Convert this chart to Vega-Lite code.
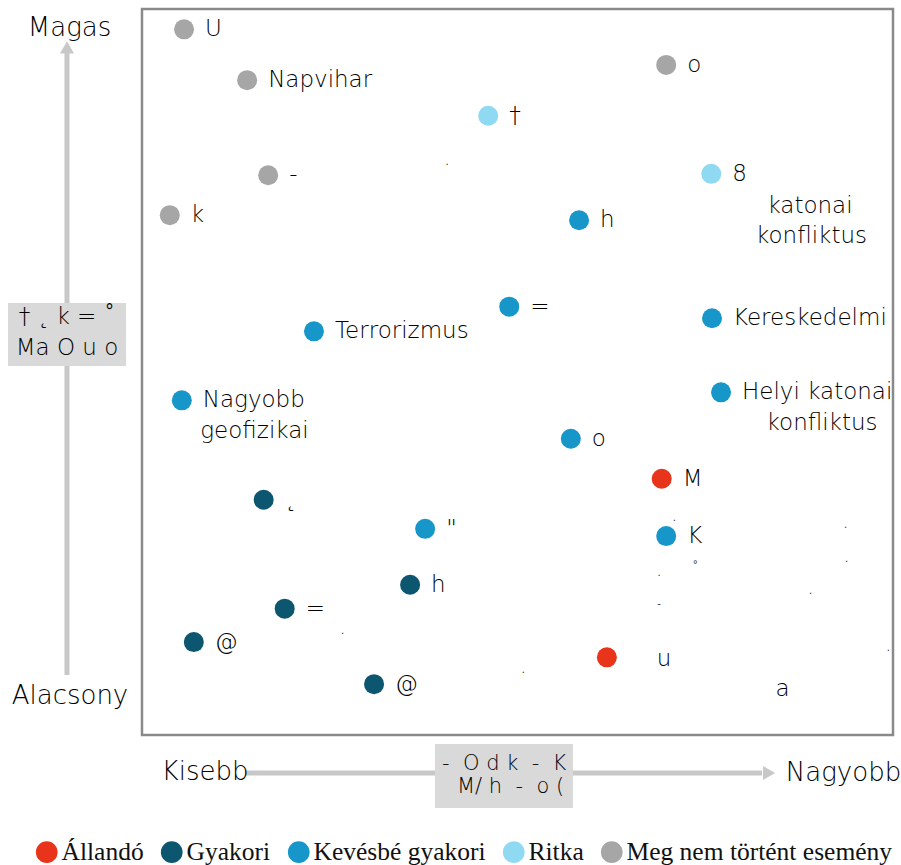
{
  "$schema": "https://vega.github.io/schema/vega-lite/v6.json",
  "width": 901,
  "height": 865,
  "autosize": "none",
  "padding": 0,
  "background": "white",
  "config": {"view": {"stroke": null}},
  "datasets": {
    "risks": [
      {"x": 0.56, "y": 9.72, "cat": "Meg nem történt esemény", "label": "U"},
      {"x": 1.40, "y": 9.02, "cat": "Meg nem történt esemény", "label": "Napvihar"},
      {"x": 4.61, "y": 8.53, "cat": "Ritka", "label": "†"},
      {"x": 1.68, "y": 7.71, "cat": "Meg nem történt esemény", "label": "-"},
      {"x": 0.37, "y": 7.16, "cat": "Meg nem történt esemény", "label": "k"},
      {"x": 6.98, "y": 9.23, "cat": "Meg nem történt esemény", "label": "o"},
      {"x": 7.58, "y": 7.73, "cat": "Ritka", "label": "8"},
      {"x": 5.82, "y": 7.09, "cat": "Kevésbé gyakori", "label": "h"},
      {"x": 4.89, "y": 5.90, "cat": "Kevésbé gyakori", "label": "="},
      {"x": 2.29, "y": 5.56, "cat": "Kevésbé gyakori", "label": "Terrorizmus"},
      {"x": 7.59, "y": 5.74, "cat": "Kevésbé gyakori", "label": "Kereskedelmi"},
      {"x": 7.71, "y": 4.72, "cat": "Kevésbé gyakori", "label": "Helyi katonai"},
      {"x": 0.53, "y": 4.61, "cat": "Kevésbé gyakori", "label": "Nagyobb"},
      {"x": 5.71, "y": 4.08, "cat": "Kevésbé gyakori", "label": "o"},
      {"x": 6.92, "y": 3.53, "cat": "Állandó", "label": "M"},
      {"x": 1.62, "y": 3.24, "cat": "Gyakori", "label": "˛"},
      {"x": 3.77, "y": 2.84, "cat": "Kevésbé gyakori", "label": "\""},
      {"x": 6.98, "y": 2.74, "cat": "Kevésbé gyakori", "label": "K"},
      {"x": 3.57, "y": 2.07, "cat": "Gyakori", "label": "h"},
      {"x": 1.90, "y": 1.74, "cat": "Gyakori", "label": "="},
      {"x": 0.69, "y": 1.28, "cat": "Gyakori", "label": "@"},
      {"x": 3.09, "y": 0.70, "cat": "Gyakori", "label": "@"},
      {"x": 6.19, "y": 1.07, "cat": "Állandó", "label": ""}
    ],
    "frags": [
      {"x": 8.895, "y": 7.287, "text": "katonai"},
      {"x": 8.915, "y": 6.873, "text": "konfliktus"},
      {"x": 9.055, "y": 4.298, "text": "konfliktus"},
      {"x": 1.498, "y": 4.187, "text": "geofizikai"},
      {"x": 6.951, "y": 1.047, "text": "u"},
      {"x": 8.529, "y": 0.634, "text": "a"}
    ],
    "dots": [
      {"x": 4.061, "y": 7.851, "text": "."},
      {"x": 2.672, "y": 1.388, "text": "."},
      {"x": 5.077, "y": 0.858, "text": "."},
      {"x": 7.088, "y": 2.952, "text": "."},
      {"x": 9.370, "y": 2.856, "text": "."},
      {"x": 7.368, "y": 2.300, "text": "°"},
      {"x": 9.383, "y": 2.387, "text": "."},
      {"x": 6.884, "y": 2.194, "text": "."},
      {"x": 6.884, "y": 1.763, "text": "-"},
      {"x": 8.904, "y": 1.938, "text": "."},
      {"x": 9.937, "y": 1.161, "text": "."}
    ],
    "frame": [{"x": 0, "x2": 10, "y": 0, "y2": 10}],
    "shafts": [
      {"x": -0.999, "x2": -0.999, "y": 9.394, "y2": 0.826},
      {"x": 1.371, "x2": 8.256, "y": -0.523, "y2": -0.523}
    ],
    "heads": [
      {"x": -0.999, "y": 9.470, "dir": "up"},
      {"x": 8.350, "y": -0.523, "dir": "right"}
    ],
    "boxes": [
      {"x": -1.784, "x2": -0.213, "y": 5.950, "y2": 5.083},
      {"x": 3.901, "x2": 5.739, "y": -0.124, "y2": -1.006}
    ],
    "ends": [
      {"x": -0.965, "y": 9.745, "text": "Magas"},
      {"x": -0.959, "y": 0.537, "text": "Alacsony"},
      {"x": 0.839, "y": -0.503, "text": "Kisebb"},
      {"x": 9.341, "y": -0.517, "text": "Nagyobb"}
    ],
    "boxtextC": [
      {"x": -0.999, "y": 5.758, "text": "† ˛ k = ˚"},
      {"x": -0.999, "y": 5.324, "text": "Ma O u o"}
    ],
    "boxtextL": [
      {"x": 3.995, "y": -0.399, "text": "- \u00a0O d k \u00a0- \u00a0K"},
      {"x": 4.194, "y": -0.716, "text": "M/ h \u00a0- \u00a0o ("}
    ]
  },
  "layer": [
    {
      "data": {"name": "shafts"},
      "mark": {"type": "rule", "color": "#c8c8c8", "strokeWidth": 5},
      "encoding": {
        "x": {"field": "x", "type": "quantitative", "scale": {"domain": [-1.8908, 10.1065], "nice": false, "zero": false}, "axis": null},
        "x2": {"field": "x2"},
        "y": {"field": "y", "type": "quantitative", "scale": {"domain": [-1.7906, 10.124], "nice": false, "zero": false}, "axis": null},
        "y2": {"field": "y2"}
      }
    },
    {
      "data": {"name": "heads"},
      "mark": {"type": "point", "filled": true, "color": "#c8c8c8", "opacity": 1, "size": 200},
      "encoding": {
        "x": {"field": "x", "type": "quantitative", "axis": null},
        "y": {"field": "y", "type": "quantitative", "axis": null},
        "shape": {"field": "dir", "type": "nominal", "scale": {"domain": ["up", "right"], "range": ["triangle-up", "triangle-right"]}, "legend": null}
      }
    },
    {
      "data": {"name": "boxes"},
      "mark": {"type": "rect", "color": "#d9d9d9"},
      "encoding": {
        "x": {"field": "x", "type": "quantitative", "axis": null},
        "x2": {"field": "x2"},
        "y": {"field": "y", "type": "quantitative", "axis": null},
        "y2": {"field": "y2"}
      }
    },
    {
      "data": {"name": "boxtextC"},
      "mark": {"type": "text", "font": "DejaVu Sans", "fontWeight": 200, "fontSize": 23, "color": "#000000", "align": "center", "baseline": "middle"},
      "encoding": {
        "x": {"field": "x", "type": "quantitative", "axis": null},
        "y": {"field": "y", "type": "quantitative", "axis": null},
        "text": {"field": "text"}
      }
    },
    {
      "data": {"name": "boxtextL"},
      "mark": {"type": "text", "font": "DejaVu Sans", "fontWeight": 200, "fontSize": 21, "color": "#000000", "align": "left", "baseline": "middle"},
      "encoding": {
        "x": {"field": "x", "type": "quantitative", "axis": null},
        "y": {"field": "y", "type": "quantitative", "axis": null},
        "text": {"field": "text"}
      }
    },
    {
      "data": {"name": "ends"},
      "mark": {"type": "text", "font": "DejaVu Sans", "fontWeight": 200, "fontSize": 26, "color": "#000000", "align": "center", "baseline": "middle"},
      "encoding": {
        "x": {"field": "x", "type": "quantitative", "axis": null},
        "y": {"field": "y", "type": "quantitative", "axis": null},
        "text": {"field": "text"}
      }
    },
    {
      "data": {"name": "risks"},
      "mark": {"type": "circle", "size": 400, "opacity": 1},
      "encoding": {
        "x": {"field": "x", "type": "quantitative", "axis": null},
        "y": {"field": "y", "type": "quantitative", "axis": null},
        "color": {
          "field": "cat", "type": "nominal",
          "scale": {"domain": ["Állandó", "Gyakori", "Kevésbé gyakori", "Ritka", "Meg nem történt esemény"], "range": ["#e8341a", "#0c5670", "#1797c9", "#90d9f2", "#a6a6a6"]},
          "legend": {"orient": "none", "legendX": 34, "legendY": 839, "direction": "horizontal", "columns": 5, "title": null, "padding": 0, "labelFont": "Liberation Serif", "labelFontSize": 25.5, "labelColor": "#111111", "symbolType": "circle", "symbolSize": 470, "symbolStrokeWidth": 0, "symbolOpacity": 1, "labelOffset": 2, "columnPadding": 15, "labelLimit": 400}
        }
      }
    },
    {
      "data": {"name": "risks"},
      "mark": {"type": "text", "font": "DejaVu Sans", "fontWeight": 200, "fontSize": 23, "color": "#000000", "align": "left", "baseline": "middle", "dx": 21},
      "encoding": {
        "x": {"field": "x", "type": "quantitative", "axis": null},
        "y": {"field": "y", "type": "quantitative", "axis": null},
        "text": {"field": "label"}
      }
    },
    {
      "data": {"name": "frags"},
      "mark": {"type": "text", "font": "DejaVu Sans", "fontWeight": 200, "fontSize": 23, "color": "#000000", "align": "center", "baseline": "middle"},
      "encoding": {
        "x": {"field": "x", "type": "quantitative", "axis": null},
        "y": {"field": "y", "type": "quantitative", "axis": null},
        "text": {"field": "text"}
      }
    },
    {
      "data": {"name": "dots"},
      "mark": {"type": "text", "font": "DejaVu Sans", "fontSize": 10, "color": "#333333", "align": "center", "baseline": "alphabetic"},
      "encoding": {
        "x": {"field": "x", "type": "quantitative", "axis": null},
        "y": {"field": "y", "type": "quantitative", "axis": null},
        "text": {"field": "text"}
      }
    },
    {
      "data": {"name": "frame"},
      "mark": {"type": "rect", "fill": null, "fillOpacity": 0, "stroke": "#8a8a8a", "strokeWidth": 2.5},
      "encoding": {
        "x": {"field": "x", "type": "quantitative", "axis": null},
        "x2": {"field": "x2"},
        "y": {"field": "y", "type": "quantitative", "axis": null},
        "y2": {"field": "y2"}
      }
    }
  ]
}
